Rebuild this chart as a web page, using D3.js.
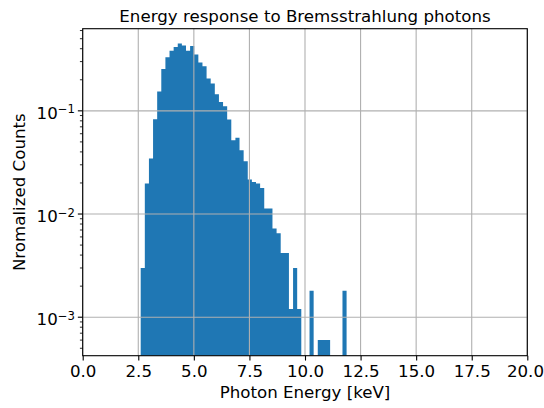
<!DOCTYPE html>
<html>
<head>
<meta charset="utf-8">
<script src="https://cdn.jsdelivr.net/npm/d3@7"></script>
<style>
  body { margin: 0; background: #fff; }
  svg { display: block; }
  text { font-family: "DejaVu Sans", sans-serif; fill: #000; }
</style>
</head>
<body>
<svg id="chart" width="544" height="408"></svg>
<script>
// Histogram of photon energies: 50 equal bins between the lowest and highest energy
const binLow = 2.609;   // keV, left edge of the first bin
const binHigh = 11.871; // keV, right edge of the last bin
const normCounts = [
  0.0030, 0.0198, 0.0346, 0.083, 0.154, 0.255, 0.330, 0.382, 0.415, 0.450,
  0.430, 0.382, 0.424, 0.352, 0.294, 0.271, 0.206, 0.184, 0.145, 0.122,
  0.111, 0.0825, 0.052, 0.0547, 0.0416, 0.0325, 0.0216, 0.0204, 0.0198, 0.0179,
  0.0113, 0.0113, 0.00724, 0.00652, 0.0042, 0.0042, 0.0012, 0.0030, 0.0012, 0,
  0, 0.0018, 0, 0.0006, 0.0006, 0.0006, 0, 0, 0, 0.0018
];
const xTickValues = [0, 2.5, 5, 7.5, 10, 12.5, 15, 17.5, 20];
const yTickExponents = [-3, -2, -1];
const titleText = "Energy response to Bremsstrahlung photons";
const xLabelText = "Photon Energy [keV]";
const yLabelText = "Nromalized Counts";

const W = 544;
const plot = { left: 82.7, right: 527.3, top: 28.7, bottom: 355.7 };
const fontSize = 16.67;
const blue = "#1f77b4";
const gridColor = "#b0b0b0";

const svg = d3.select("#chart");

const x = d3.scaleLinear().domain([0, 20]).range([plot.left, plot.right]);
const y = d3.scaleLog().domain([Math.pow(10, -3.373), Math.pow(10, -0.204)]).range([plot.bottom, plot.top]);

const nBins = normCounts.length;
const binWidth = (binHigh - binLow) / nBins;
const bins = normCounts.map((v, i) => ({ x0: binLow + i * binWidth, x1: binLow + (i + 1) * binWidth, v }));

svg.append("defs").append("clipPath").attr("id", "plot-clip")
  .append("rect")
  .attr("x", plot.left).attr("y", plot.top)
  .attr("width", plot.right - plot.left).attr("height", plot.bottom - plot.top);

// Bars as one filled path, so neighbouring bins join without seams
const barPath = d3.path();
bins.filter(b => b.v > 0).forEach(b => {
  const x0 = x(b.x0), x1 = x(b.x1), yt = y(b.v);
  barPath.moveTo(x0, plot.bottom);
  barPath.lineTo(x0, yt);
  barPath.lineTo(x1, yt);
  barPath.lineTo(x1, plot.bottom);
  barPath.closePath();
});
svg.append("path")
  .attr("clip-path", "url(#plot-clip)")
  .attr("d", barPath.toString())
  .attr("fill", blue);

// Grid, drawn above the bars
const grid = svg.append("g").attr("stroke", gridColor).attr("stroke-width", 1.1);
grid.selectAll("line.gx").data(xTickValues).join("line").attr("class", "gx")
  .attr("x1", d => x(d)).attr("x2", d => x(d))
  .attr("y1", plot.top).attr("y2", plot.bottom);
grid.selectAll("line.gy").data(yTickExponents).join("line").attr("class", "gy")
  .attr("x1", plot.left).attr("x2", plot.right)
  .attr("y1", d => y(Math.pow(10, d))).attr("y2", d => y(Math.pow(10, d)));

// X axis
const xAxis = d3.axisBottom(x).tickValues(xTickValues)
  .tickFormat(d3.format(".1f")).tickSize(4.86).tickPadding(4.5);
const gx = svg.append("g").attr("transform", `translate(0,${plot.bottom})`).call(xAxis);
gx.select(".domain").remove();
gx.selectAll(".tick line").attr("stroke", "#000").attr("stroke-width", 1.1);
gx.selectAll(".tick text").attr("font-size", fontSize).attr("font-family", "DejaVu Sans").attr("fill", "#000");
// keep the last label inside the page
gx.selectAll(".tick text").each(function () {
  const box = this.getBBox();
  const tx = x(d3.select(this.parentNode).datum());
  const overflow = tx + box.x + box.width - (W - 0.5);
  if (overflow > 0) d3.select(this).attr("x", -overflow);
});

// Y axis: minor ticks
const [ylo, yhi] = y.domain();
const minorTicks = [];
for (let e = -4; e <= 0; e++) {
  for (let m = 2; m <= 9; m++) {
    const v = m * Math.pow(10, e);
    if (v >= ylo && v <= yhi) minorTicks.push(v);
  }
}
svg.append("g").selectAll("line").data(minorTicks).join("line")
  .attr("x1", plot.left).attr("x2", plot.left - 2.78)
  .attr("y1", d => y(d)).attr("y2", d => y(d))
  .attr("stroke", "#000").attr("stroke-width", 0.83);

// Y axis: major ticks and labels
const gy = svg.append("g");
gy.selectAll("line").data(yTickExponents).join("line")
  .attr("x1", plot.left).attr("x2", plot.left - 4.86)
  .attr("y1", d => y(Math.pow(10, d))).attr("y2", d => y(Math.pow(10, d)))
  .attr("stroke", "#000").attr("stroke-width", 1.1);
const yl = gy.selectAll("text").data(yTickExponents).join("text")
  .attr("x", 75).attr("y", d => y(Math.pow(10, d)) + 7.8)
  .attr("text-anchor", "end").attr("font-size", fontSize);
yl.append("tspan").text("10");
yl.append("tspan").attr("dy", -5.2).attr("font-size", fontSize * 0.7).text(d => "\u2212" + Math.abs(d));

// Spines
svg.append("rect")
  .attr("x", plot.left).attr("y", plot.top)
  .attr("width", plot.right - plot.left).attr("height", plot.bottom - plot.top)
  .attr("fill", "none").attr("stroke", "#000").attr("stroke-width", 1.1);

// Title and axis labels
const cx = (plot.left + plot.right) / 2;
svg.append("text").attr("x", cx).attr("y", 21.5).attr("text-anchor", "middle")
  .attr("font-size", fontSize).text(titleText);
svg.append("text").attr("x", cx).attr("y", 398).attr("text-anchor", "middle")
  .attr("font-size", fontSize).text(xLabelText);
svg.append("text").attr("transform", `translate(25,${(plot.top + plot.bottom) / 2}) rotate(-90)`)
  .attr("text-anchor", "middle").attr("font-size", fontSize).text(yLabelText);
</script>
</body>
</html>
